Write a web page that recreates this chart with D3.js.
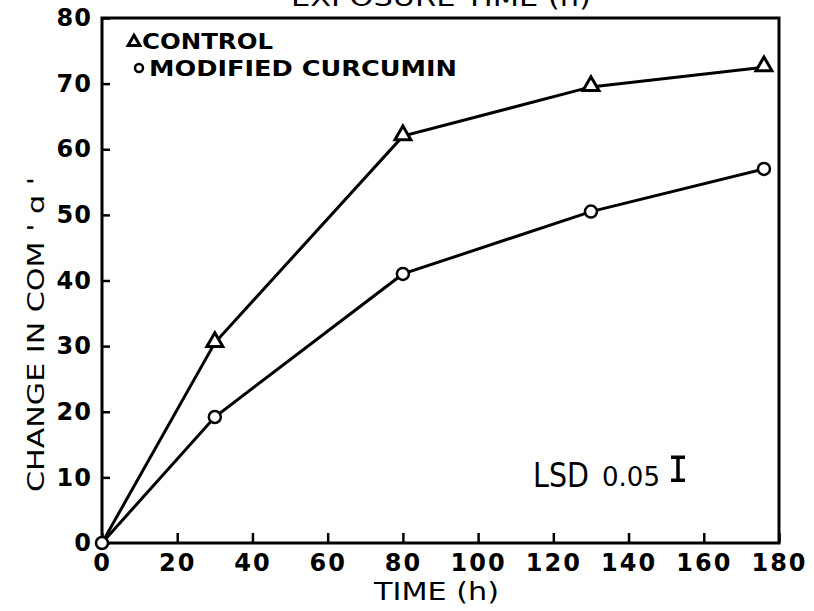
<!DOCTYPE html>
<html>
<head>
<meta charset="utf-8">
<script src="https://cdn.jsdelivr.net/npm/d3@7"></script>
<style>
  body { margin: 0; background: #fff; }
  svg { display: block; }
  .tick text { font-family: "DejaVu Sans", sans-serif; font-weight: bold; fill: #000; }
</style>
</head>
<body>
<div id="chart"></div>
<script>
// exposure time (h) and change in colour 'a' value
const times = [0, 30, 80, 130, 176]
const control = [0, 30.5, 62, 69.5, 72.5]
const curcumin = [0, 19.2, 41, 50.5, 57]
const xTicks = [0, 20, 40, 60, 80, 100, 120, 140, 160, 180]
const yTicks = [0, 10, 20, 30, 40, 50, 60, 70, 80]
const legendLabels = ["CONTROL", "MODIFIED CURCUMIN"]
const lsd = 3.5
const lsdAt = 11.3

const width = 814, height = 611
const margin = {top: 18, right: 35, bottom: 68, left: 102}

const svg = d3.select("#chart").append("svg")
  .attr("width", width)
  .attr("height", height)

const x = d3.scaleLinear().domain([0, 180]).range([margin.left, width - margin.right])
const y = d3.scaleLinear().domain([0, 80]).range([height - margin.bottom, margin.top])

// stretched text, the lettering on the original is wide
function wideText(g, str, len, size) {
  return g.append("text")
    .style("font-family", "DejaVu Sans").style("font-size", size + "px")
    .attr("textLength", len).attr("lengthAdjust", "spacingAndGlyphs")
    .text(str)
}

// title, cut off at the top of the scan
wideText(svg, "EXPOSURE TIME (h)", 300, 24)
  .attr("x", 291).attr("y", 6)

const xAxis = svg.append("g")
  .attr("transform", `translate(0,${y(0)})`)
  .call(d3.axisBottom(x).tickValues(xTicks).tickSizeInner(-10).tickSizeOuter(0).tickPadding(11))
xAxis.select(".domain").remove()
xAxis.selectAll(".tick line").attr("stroke-width", 2.5)
xAxis.selectAll(".tick text").style("font-size", "24px").style("letter-spacing", "2px")

const yAxis = svg.append("g")
  .attr("transform", `translate(${x(0)},0)`)
  .call(d3.axisLeft(y).tickValues(yTicks).tickSizeInner(-8).tickSizeOuter(0).tickPadding(10))
yAxis.select(".domain").remove()
yAxis.selectAll(".tick line").attr("stroke-width", 2.5)
yAxis.selectAll(".tick text").style("font-size", "24px").style("letter-spacing", "1px")

// frame
svg.append("rect")
  .attr("x", x(0)).attr("y", y(80))
  .attr("width", x(180) - x(0)).attr("height", y(0) - y(80))
  .attr("fill", "none").attr("stroke", "#000").attr("stroke-width", 3)

wideText(svg, "TIME (h)", 125, 24)
  .attr("x", 374).attr("y", 600)

wideText(svg, "CHANGE IN COM ' ɑ '", 315, 23)
  .attr("transform", `translate(44,492) rotate(-90)`)

const line = d3.line().x(d => x(d[0])).y(d => y(d[1]))
const ctrlPts = d3.zip(times, control)
const curPts = d3.zip(times, curcumin)

svg.append("path").datum(ctrlPts)
  .attr("d", line).attr("fill", "none").attr("stroke", "#000").attr("stroke-width", 3)
svg.append("path").datum(curPts)
  .attr("d", line).attr("fill", "none").attr("stroke", "#000").attr("stroke-width", 3)

const tri = d3.symbol().type(d3.symbolTriangle).size(110)
svg.append("g").selectAll("path")
  .data(ctrlPts.filter(d => d[0] > 0))
  .join("path")
  .attr("d", tri)
  .attr("transform", d => `translate(${x(d[0])},${y(d[1]) - 1})`)
  .attr("fill", "#fff").attr("stroke", "#000").attr("stroke-width", 3)

svg.append("g").selectAll("circle")
  .data(curPts)
  .join("circle")
  .attr("cx", d => x(d[0])).attr("cy", d => y(d[1]))
  .attr("r", 6)
  .attr("fill", "#fff").attr("stroke", "#000").attr("stroke-width", 2.5)

// legend
const legend = svg.append("g")
legend.append("path").attr("d", d3.symbol().type(d3.symbolTriangle).size(60))
  .attr("transform", "translate(134,42)")
  .attr("fill", "#fff").attr("stroke", "#000").attr("stroke-width", 3)
legend.append("circle").attr("cx", 139).attr("cy", 68).attr("r", 4)
  .attr("fill", "#fff").attr("stroke", "#000").attr("stroke-width", 2.5)
legendLabels.forEach((d, i) => {
  wideText(legend, d, i === 0 ? 131 : 308, 22)
    .style("font-weight", "bold")
    .attr("x", i === 0 ? 142 : 149)
    .attr("y", 49 + i * 27)
})

// LSD bar
wideText(svg, "LSD", 56, 34).attr("x", 533).attr("y", 487)
wideText(svg, "0.05", 58, 27).attr("x", 602).attr("y", 486)
const lx = 678
svg.append("path")
  .attr("d", `M${lx},${y(lsdAt + lsd / 2)}V${y(lsdAt - lsd / 2)}M${lx - 7},${y(lsdAt + lsd / 2)}H${lx + 7}M${lx - 7},${y(lsdAt - lsd / 2)}H${lx + 7}`)
  .attr("stroke", "#000").attr("stroke-width", 3.5).attr("fill", "none")
</script>
</body>
</html>
